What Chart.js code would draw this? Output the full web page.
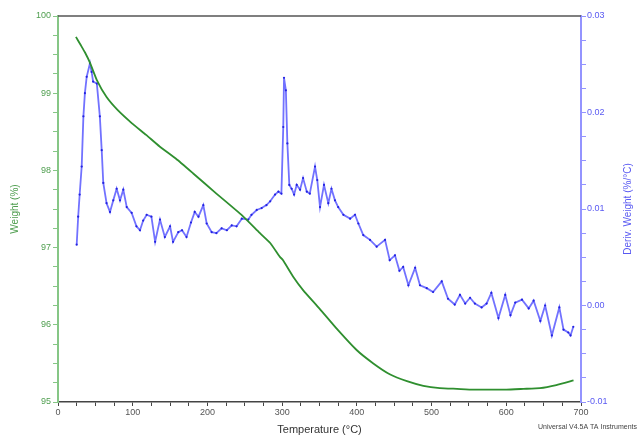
<!DOCTYPE html>
<html>
<head>
<meta charset="utf-8">
<title>TGA</title>
<script src="https://cdn.jsdelivr.net/npm/chart.js@4.4.1/dist/chart.umd.min.js"></script>
<style>
  body { margin: 0; background: #fff; }
  canvas { display: block; }
</style>
</head>
<body>
<canvas id="tgaChart" width="639" height="437"></canvas>
<script>
// weight loss curve (%), temperature in °C
const weightTemps = [24, 30, 36, 43, 52, 65, 80, 99, 118, 136, 158, 181, 212, 246, 270, 284, 297, 301, 315, 328, 350, 373, 400, 422, 444, 467, 489, 511, 534, 556, 578, 600, 623, 645, 667, 690];
const weightValues = [99.73, 99.63, 99.53, 99.39, 99.17, 98.95, 98.78, 98.61, 98.46, 98.31, 98.15, 97.96, 97.70, 97.42, 97.19, 97.06, 96.88, 96.84, 96.62, 96.45, 96.21, 95.95, 95.67, 95.50, 95.36, 95.27, 95.21, 95.18, 95.17, 95.16, 95.16, 95.16, 95.17, 95.18, 95.22, 95.28];

// derivative weight (%/°C)
const derivTemps = [25, 27, 29, 31.7, 34, 36, 38.4, 42.8, 45, 47, 52, 56, 58.5, 60.6, 65, 69.6, 74, 78.5, 83, 87.4, 92, 98.6, 105, 109.7, 114, 118.7, 125, 130, 136.5, 143, 150, 154, 161, 166, 172, 178, 183, 188, 194.5, 199, 205.7, 212, 219, 226, 232.5, 239, 246, 254.7, 259, 266, 272.6, 279, 284, 290.5, 295, 299, 301.5, 302.5, 305, 307, 309.6, 312.7, 316, 319.5, 324, 328, 333, 337, 344, 347, 350.7, 356, 361.8, 366, 370.7, 375, 382, 391, 397.5, 402, 408.6, 417.6, 426.5, 437.7, 444, 451, 457, 462, 469, 478, 484.5, 493.5, 502, 513.6, 522, 531, 538, 545, 551.5, 558, 567, 573.6, 580, 589.5, 598.6, 605.6, 612, 621, 630, 636.6, 645.6, 652, 661, 671, 676.6, 683, 686, 689.7];
const derivValues = [0.0063, 0.0092, 0.0115, 0.0144, 0.0196, 0.0220, 0.0237, 0.0251, 0.0242, 0.0232, 0.0230, 0.0196, 0.0161, 0.0127, 0.0106, 0.0097, 0.0109, 0.0121, 0.0109, 0.0120, 0.0102, 0.0096, 0.0082, 0.0078, 0.0088, 0.0094, 0.0092, 0.0066, 0.0089, 0.0071, 0.0082, 0.0066, 0.0076, 0.0078, 0.0071, 0.0086, 0.0097, 0.0092, 0.0104, 0.0085, 0.0076, 0.0075, 0.0080, 0.0078, 0.0083, 0.0082, 0.0090, 0.0089, 0.0094, 0.0099, 0.0101, 0.0104, 0.0108, 0.0115, 0.0118, 0.0116, 0.0185, 0.0236, 0.0223, 0.0168, 0.0125, 0.0121, 0.0115, 0.0125, 0.0120, 0.0132, 0.0118, 0.0116, 0.0144, 0.0130, 0.0102, 0.0125, 0.0106, 0.0121, 0.0109, 0.0102, 0.0094, 0.0090, 0.0094, 0.0085, 0.0073, 0.0068, 0.0061, 0.0068, 0.0047, 0.0052, 0.0036, 0.0040, 0.0021, 0.0039, 0.0021, 0.0018, 0.0014, 0.0025, 0.0007, 0.0001, 0.0011, 0.0002, 0.0008, 0.0002, -0.0002, 0.0002, 0.0013, -0.0013, 0.0011, -0.0010, 0.0003, 0.0006, -0.0003, 0.0005, -0.0016, 0.0000, -0.0031, -0.0002, -0.0025, -0.0028, -0.0031, -0.0022];

// axis ticks (majors get labels, the rest are minor marks)
const tempTicks = [0, 100, 200, 300, 400, 500, 600, 700];
const weightTicks = [95, 96, 97, 98, 99, 100];
const derivTicks = [-0.01, 0.00, 0.01, 0.02, 0.03];

const GREEN_AXIS = "#86c686";
const GREEN_TEXT = "#4f9e4f";
const BLUE_AXIS = "#9494ff";
const BLUE_TEXT = "#5a5af2";

Chart.defaults.font.family = "'Liberation Sans', Arial, sans-serif";

function toPoints(xs, ys) {
  return xs.map((x, i) => ({ x: x, y: ys[i] }));
}

function isMajor(value, list) {
  return list.some(v => Math.abs(v - value) < 1e-9);
}

// frame line on top, right axis title and instrument note
const extras = {
  id: "extras",
  afterDraw(chart) {
    const { ctx, chartArea } = chart;
    ctx.save();
    ctx.strokeStyle = "#555";
    ctx.lineWidth = 1.5;
    ctx.beginPath();
    ctx.moveTo(chartArea.left, chartArea.top);
    ctx.lineTo(chartArea.right, chartArea.top);
    ctx.stroke();

    ctx.fillStyle = BLUE_TEXT;
    ctx.font = "10px 'Liberation Sans', Arial, sans-serif";
    ctx.textAlign = "center";
    ctx.textBaseline = "middle";
    ctx.translate(628, (chartArea.top + chartArea.bottom) / 2);
    ctx.rotate(-Math.PI / 2);
    ctx.fillText("Deriv. Weight (%/°C)", 0, 0);
    ctx.restore();

    ctx.save();
    ctx.fillStyle = "#444";
    ctx.font = "7px 'Liberation Sans', Arial, sans-serif";
    ctx.textAlign = "right";
    ctx.textBaseline = "middle";
    ctx.fillText("Universal V4.5A TA Instruments", 637, 427);
    ctx.restore();
  }
};

new Chart(document.getElementById("tgaChart"), {
  type: "line",
  data: {
    datasets: [
      {
        label: "Weight",
        data: toPoints(weightTemps, weightValues),
        yAxisID: "yWeight",
        borderColor: "#2f8f2f",
        borderWidth: 1.8,
        pointRadius: 0,
        tension: 0.15
      },
      {
        label: "Deriv. Weight",
        data: toPoints(derivTemps, derivValues),
        yAxisID: "yDeriv",
        borderColor: "#7272ff",
        borderWidth: 1.8,
        pointRadius: 1.1,
        pointBorderWidth: 0,
        pointBackgroundColor: "#2323e0",
        tension: 0
      }
    ]
  },
  options: {
    responsive: false,
    animation: false,
    layout: { padding: { top: 16, right: 0, left: 0, bottom: 0 } },
    plugins: { legend: { display: false }, tooltip: { enabled: false } },
    scales: {
      x: {
        type: "linear",
        min: 0,
        max: 700,
        afterFit: s => { s.height = 35; },
        border: { color: "#444", width: 1.5 },
        grid: { drawOnChartArea: false, tickLength: 4, tickColor: "#444" },
        ticks: {
          stepSize: 25,
          autoSkip: false,
          maxRotation: 0,
          padding: 1,
          color: "#555",
          font: { size: 9 },
          callback: v => isMajor(v, tempTicks) ? String(v) : ""
        },
        title: {
          display: true,
          text: "Temperature (°C)",
          color: "#333",
          font: { size: 11 },
          padding: { top: 0, bottom: 0 }
        }
      },
      yWeight: {
        position: "left",
        min: 95,
        max: 100,
        afterFit: s => { s.width = 58; },
        border: { color: GREEN_AXIS, width: 2 },
        grid: { drawOnChartArea: false, tickLength: 5, tickColor: GREEN_AXIS },
        ticks: {
          stepSize: 0.25,
          autoSkip: false,
          padding: 2,
          color: GREEN_TEXT,
          font: { size: 9 },
          callback: v => isMajor(v, weightTicks) ? String(Math.round(v)) : ""
        },
        title: {
          display: true,
          text: "Weight (%)",
          color: GREEN_TEXT,
          font: { size: 10 },
          padding: { top: 9, bottom: 0 }
        }
      },
      yDeriv: {
        position: "right",
        min: -0.01,
        max: 0.03,
        afterFit: s => { s.width = 58; },
        border: { color: BLUE_AXIS, width: 2 },
        grid: { drawOnChartArea: false, tickLength: 5, tickColor: BLUE_AXIS },
        ticks: {
          stepSize: 0.0025,
          autoSkip: false,
          padding: 1,
          color: BLUE_TEXT,
          font: { size: 9 },
          callback: v => isMajor(v, derivTicks) ? v.toFixed(2) : ""
        }
      }
    }
  },
  plugins: [extras]
});
</script>
</body>
</html>
